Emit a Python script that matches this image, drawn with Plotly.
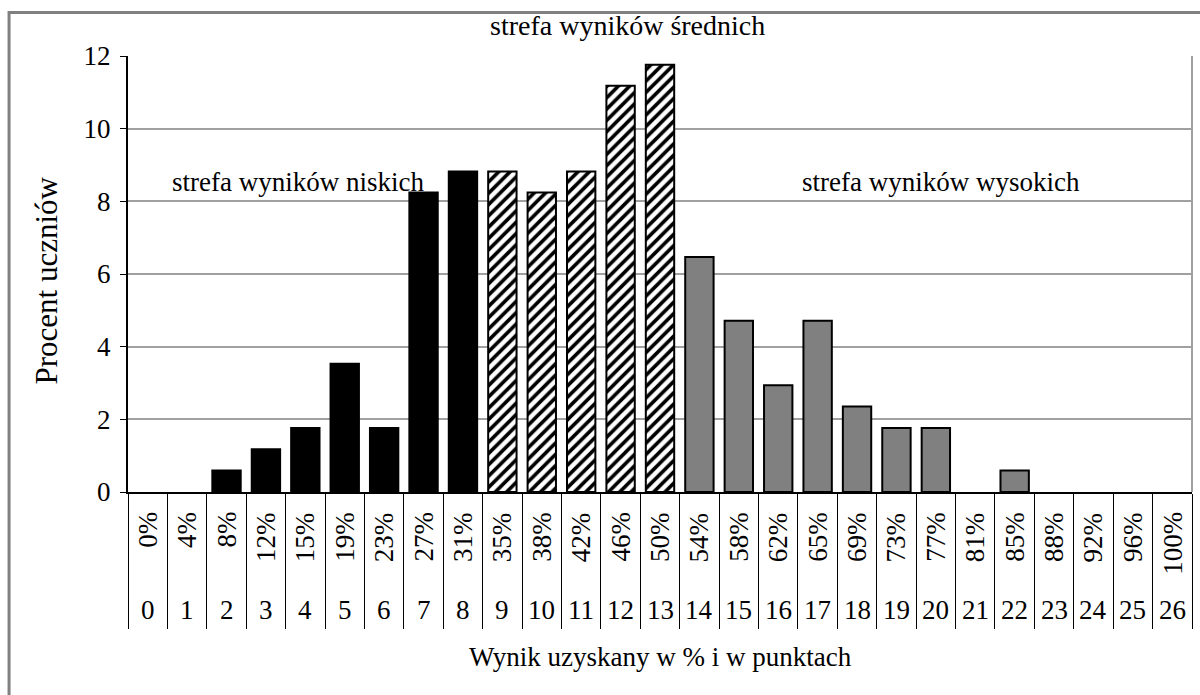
import plotly.graph_objects as go

# Wynik w punktach (0-26) i odpowiadający mu procent
points = [str(i) for i in range(27)]
percent_labels = ["0%", "4%", "8%", "12%", "15%", "19%", "23%", "27%", "31%",
                  "35%", "38%", "42%", "46%", "50%", "54%", "58%", "62%", "65%",
                  "69%", "73%", "77%", "81%", "85%", "88%", "92%", "96%", "100%"]

# Procent uczniów w trzech strefach wyników
low_points = points[0:9]
low_values = [0, 0, 0.59, 1.18, 1.76, 3.53, 1.76, 8.24, 8.82]

mid_points = points[9:14]
mid_values = [8.82, 8.24, 8.82, 11.18, 11.76]

high_points = points[14:27]
high_values = [6.47, 4.71, 2.94, 4.71, 2.35, 1.76, 1.76, 0, 0.59, 0, 0, 0, 0]

zone_labels = ["strefa wyników niskich", "strefa wyników średnich", "strefa wyników wysokich"]

FONT = "Liberation Serif"
FS = 27


def outline(values):
    # słupki o zerowej wysokości nie dostają obrysu
    return [2 if v > 0 else 0 for v in values]


fig = go.Figure()
fig.add_trace(go.Bar(
    x=low_points, y=low_values, name=zone_labels[0],
    marker=dict(color="black", line=dict(color="black", width=outline(low_values))),
))
fig.add_trace(go.Bar(
    x=mid_points, y=mid_values, name=zone_labels[1],
    marker=dict(color="white", line=dict(color="black", width=outline(mid_values)),
                pattern=dict(shape="/", fgcolor="black", bgcolor="white",
                             size=8, solidity=0.45, fillmode="replace")),
))
fig.add_trace(go.Bar(
    x=high_points, y=high_values, name=zone_labels[2],
    marker=dict(color="#808080", line=dict(color="black", width=outline(high_values))),
))

txt = dict(family=FONT, size=FS, color="black")

annotations = []
for p, pct in zip(points, percent_labels):
    annotations.append(dict(x=p, y=0, xref="x", yref="y", text=pct, textangle=-90,
                            yanchor="top", yshift=-18, showarrow=False, font=txt))
    annotations.append(dict(x=p, y=0, xref="x", yref="y", text=p,
                            yanchor="middle", yshift=-118, showarrow=False, font=txt))

# Nazwy stref
annotations += [
    dict(x="4", y=8, xref="x", yref="y", text=zone_labels[0], yanchor="bottom",
         xshift=-7, yshift=2, showarrow=False, font=txt),
    dict(x=0.4699, y=1.0, xref="paper", yref="paper", text=zone_labels[1],
         yanchor="bottom", yshift=13, showarrow=False,
         font=dict(family=FONT, size=28, color="black")),
    dict(x="20", y=8, xref="x", yref="y", text=zone_labels[2], yanchor="bottom",
         xshift=5, yshift=2, showarrow=False, font=txt),
]

# Tytuły osi
annotations += [
    dict(x=0.5, y=0, xref="paper", yref="y", text="Wynik uzyskany w % i w punktach",
         yanchor="middle", yshift=-165, showarrow=False, font=txt),
    dict(x=-0.0761, y=0.485, xref="paper", yref="paper", text="Procent uczniów",
         textangle=-90, xanchor="center", yanchor="middle", showarrow=False,
         font=dict(family=FONT, size=31, color="black")),
]

fig.update_layout(
    width=1200, height=695,
    margin=dict(l=128, r=8, t=56, b=203, pad=0),
    paper_bgcolor="white", plot_bgcolor="white",
    barmode="overlay", bargap=0.28,
    showlegend=False,
    font=txt,
    annotations=annotations,
    shapes=[
        # zewnętrzna ramka
        dict(type="rect", xref="paper", yref="paper", x0=-0.1118, x1=1.05,
             y0=-0.6, y1=1.1, line=dict(color="#808080", width=3), layer="below"),
        # prawa krawędź obszaru wykresu
        dict(type="line", xref="paper", yref="paper", x0=1, x1=1, y0=0, y1=1,
             line=dict(color="#a0a0a0", width=2)),
    ],
)

fig.update_xaxes(
    type="category", categoryorder="array", categoryarray=points,
    showticklabels=False, ticks="outside", tickson="boundaries",
    ticklen=135, tickwidth=1, tickcolor="black",
    showline=True, linecolor="black", linewidth=2,
    showgrid=False, fixedrange=True,
)
fig.update_yaxes(
    range=[0, 12], dtick=2, tick0=0,
    ticks="outside", ticklen=6, tickwidth=1, tickcolor="black",
    ticklabelstandoff=4,
    showline=True, linecolor="black", linewidth=2,
    showgrid=True, gridcolor="#a0a0a0", gridwidth=1.5,
    zeroline=False,
    tickfont=txt,
)

fig.write_html("out.html")
